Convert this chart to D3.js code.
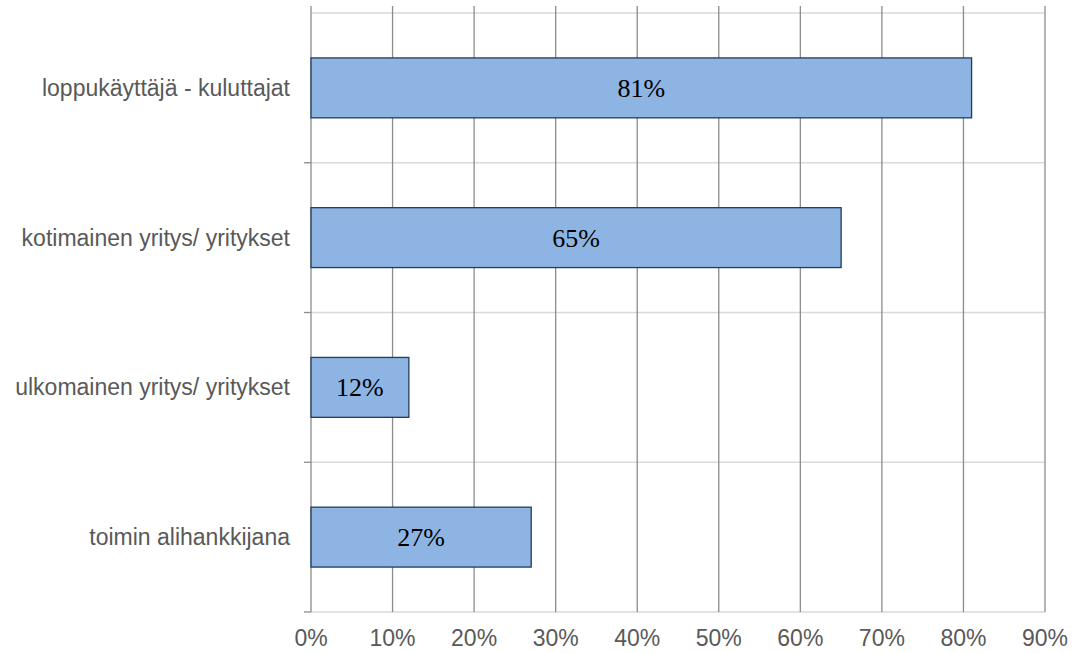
<!DOCTYPE html>
<html><head><meta charset="utf-8">
<script src="https://cdn.jsdelivr.net/npm/d3@7"></script>
<style>body{margin:0;background:#fff}svg{display:block}</style>
</head><body>
<svg id="c" width="1075" height="653"></svg>
<script>
const categories = ["loppukäyttäjä - kuluttajat","kotimainen yritys/ yritykset","ulkomainen yritys/ yritykset","toimin alihankkijana"];
const values = [81, 65, 12, 27];
const tickValues = [0,10,20,30,40,50,60,70,80,90];

const svg = d3.select("#c");
const m = {l:311, r:1045, t:13, b:612};
const x = d3.scaleLinear().domain([0,90]).range([m.l, m.r]);
const y = d3.scaleBand().domain(categories).range([m.t, m.b]).paddingInner(0.6).paddingOuter(0.3);

// light horizontal band lines
const bounds = d3.range(categories.length+1).map(i => m.t + i*(m.b-m.t)/categories.length);
svg.selectAll("line.h").data(bounds).join("line")
  .attr("x1", m.l).attr("x2", m.r).attr("y1", d=>d).attr("y2", d=>d)
  .attr("stroke", "#d9d9d9").attr("stroke-width", 1.5);

// vertical gridlines
svg.selectAll("line.v").data(tickValues).join("line")
  .attr("x1", d=>x(d)).attr("x2", d=>x(d)).attr("y1", 6).attr("y2", m.b)
  .attr("stroke", "#8c8c8c").attr("stroke-width", 1.3);

// left ticks
svg.selectAll("line.lt").data(bounds.slice(1)).join("line")
  .attr("x1", m.l-7).attr("x2", m.l).attr("y1", d=>d).attr("y2", d=>d)
  .attr("stroke", "#8c8c8c").attr("stroke-width", 1.3);

// bars
svg.selectAll("rect.bar").data(values).join("rect")
  .attr("x", x(0)).attr("y", (d,i)=>y(categories[i]))
  .attr("width", d=>x(d)-x(0)).attr("height", y.bandwidth())
  .attr("fill", "#8eb4e3").attr("stroke", "#1f3d5c").attr("stroke-width", 1.3);

// data labels
svg.selectAll("text.dl").data(values).join("text")
  .attr("x", d=>(x(0)+x(d))/2).attr("y", (d,i)=>y(categories[i])+y.bandwidth()/2)
  .attr("dy", "0.35em").attr("text-anchor", "middle")
  .attr("font-family", "Liberation Serif, Times New Roman, serif").attr("font-size", 26)
  .attr("fill", "#000").text(d=>d+"%");

// category labels
svg.selectAll("text.cl").data(categories).join("text")
  .attr("x", 290).attr("y", d=>y(d)+y.bandwidth()/2)
  .attr("dy", "0.35em").attr("text-anchor", "end")
  .attr("font-family", "Liberation Sans, Arial, sans-serif").attr("font-size", 23)
  .attr("fill", "#595959").text(d=>d);

// x tick labels
svg.selectAll("text.xl").data(tickValues).join("text")
  .attr("x", d=>x(d)).attr("y", 646)
  .attr("text-anchor", "middle")
  .attr("font-family", "Liberation Sans, Arial, sans-serif").attr("font-size", 23)
  .attr("fill", "#595959").text(d=>d+"%");
</script>
</body></html>
